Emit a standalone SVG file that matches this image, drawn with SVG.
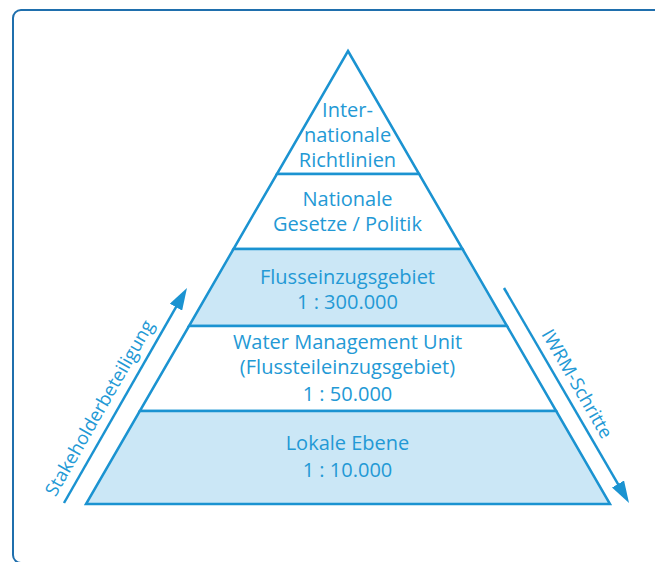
<svg xmlns="http://www.w3.org/2000/svg" width="655" height="562" viewBox="0 0 655 562">
<style>
.frame{fill:none;stroke:#1f6fad;stroke-width:2}
.layer{stroke:#1b93d1;stroke-width:2.5;stroke-linejoin:miter}
.white{fill:#ffffff}
.light{fill:#cbe7f6}
.t{font-family:"Open Sans","Noto Sans","Liberation Sans",sans-serif;font-size:20px;fill:#2399d5;text-anchor:middle}
.side{font-family:"Open Sans","Noto Sans","Liberation Sans",sans-serif;font-size:18.5px;fill:#2399d5;text-anchor:middle}
.arrow{stroke:#1b93d1;stroke-width:2.5;fill:none}
</style>
<defs>
<marker id="head" viewBox="0 0 22 14" markerWidth="22" markerHeight="14" refX="12" refY="7" orient="auto" markerUnits="userSpaceOnUse">
<path d="M0,0 L22,7 L0,14 z" fill="#1b93d1"/>
</marker>
</defs>
<rect class="frame" x="13" y="10" width="700" height="553" rx="8"/>
<g id="layer-international">
<polygon class="layer white" points="348,51 419.1,174 276.9,174"/>
<text class="t" x="347.5" y="117">Inter-</text>
<text class="t" x="347.5" y="142">nationale</text>
<text class="t" x="347.5" y="167">Richtlinien</text>
</g>
<g id="layer-national">
<polygon class="layer white" points="276.9,174 419.1,174 462.5,249 233.5,249"/>
<text class="t" x="347.5" y="206">Nationale</text>
<text class="t" x="347.5" y="230.5">Gesetze / Politik</text>
</g>
<g id="layer-fluss">
<polygon class="layer light" points="233.5,249 462.5,249 507,326 189,326"/>
<text class="t" x="347.5" y="283.5">Flusseinzugsgebiet</text>
<text class="t" x="347.5" y="308.5">1 : 300.000</text>
</g>
<g id="layer-wmu">
<polygon class="layer white" points="189,326 507,326 556.2,411 139.8,411"/>
<text class="t" x="347.5" y="348.5">Water Management Unit</text>
<text class="t" x="347.5" y="374">(Flussteileinzugsgebiet)</text>
<text class="t" x="347.5" y="400.5">1 : 50.000</text>
</g>
<g id="layer-lokal">
<polygon class="layer light" points="139.8,411 556.2,411 610,504 86,504"/>
<text class="t" x="347.5" y="450">Lokale Ebene</text>
<text class="t" x="347.5" y="477">1 : 10.000</text>
</g>
<g id="connectors">
<line class="arrow" x1="64" y1="503" x2="182" y2="296.7" marker-end="url(#head)"/>
<line class="arrow" x1="504" y1="288" x2="624" y2="494.4" marker-end="url(#head)"/>
<text class="side" transform="translate(105,411.2) rotate(-60.2)">Stakeholderbeteiligung</text>
<text class="side" transform="translate(571.7,387) rotate(60)">IWRM-Schritte</text>
</g>
</svg>
